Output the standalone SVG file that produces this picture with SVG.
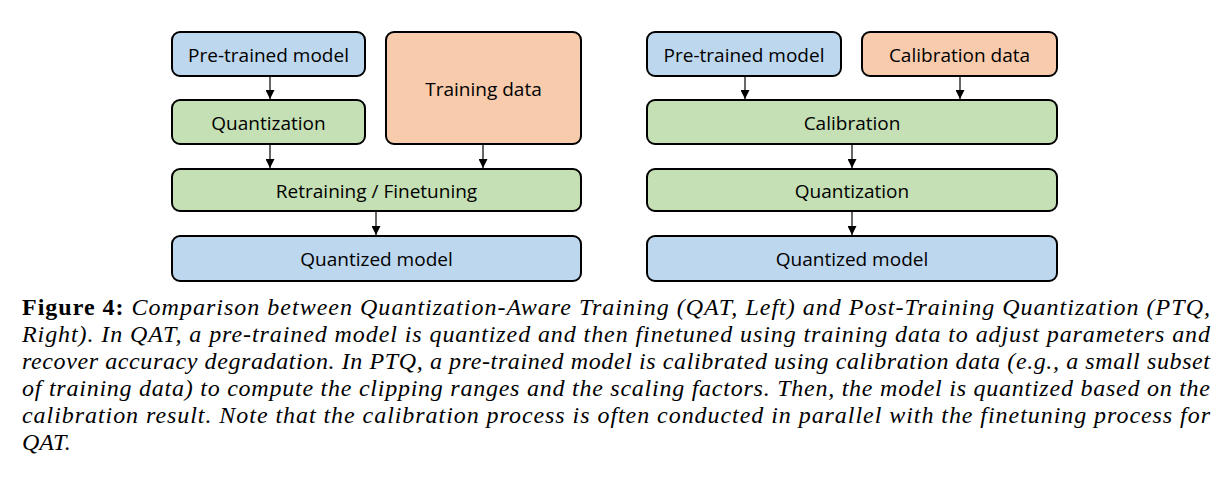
<svg xmlns="http://www.w3.org/2000/svg" width="1232" height="497" viewBox="0 0 1232 497">
<defs>
<marker id="ah" viewBox="0 0 10 10" refX="10" refY="5" markerWidth="9" markerHeight="9" markerUnits="userSpaceOnUse" orient="auto">
<path d="M0,0 L10,5 L0,10 z" fill="#000"/>
</marker>
</defs>
<style>
.box{stroke:#000;stroke-width:2}
.blue{fill:#BDD7EE}
.green{fill:#C5E0B4}
.orange{fill:#F8CBAD}
.lbl{font-family:"Open Sans","Noto Sans",sans-serif;font-size:19px;fill:#000;text-anchor:middle;dominant-baseline:central}
.con{stroke:#000;stroke-width:1.2;fill:none;marker-end:url(#ah)}
.cap{font-family:"Liberation Serif",serif;font-size:24px;font-style:italic;fill:#000}
</style>
<rect width="1232" height="497" fill="#fff"/>
<g id="qat-pretrained"><rect class="box blue" x="172" y="32" width="193" height="44" rx="8"/><text class="lbl" x="268.5" y="55">Pre-trained model</text></g>
<g id="qat-training"><rect class="box orange" x="386" y="32" width="195" height="112" rx="8"/><text class="lbl" x="483.5" y="89">Training data</text></g>
<g id="qat-quant"><rect class="box green" x="172" y="100" width="193" height="44" rx="8"/><text class="lbl" x="268.5" y="123">Quantization</text></g>
<g id="qat-retrain"><rect class="box green" x="172" y="169" width="409" height="42" rx="8"/><text class="lbl" x="376.5" y="191">Retraining / Finetuning</text></g>
<g id="qat-quantized"><rect class="box blue" x="172" y="236" width="409" height="45" rx="8"/><text class="lbl" x="376.5" y="259">Quantized model</text></g>
<g id="ptq-pretrained"><rect class="box blue" x="647" y="32" width="194" height="44" rx="8"/><text class="lbl" x="744" y="55">Pre-trained model</text></g>
<g id="ptq-calibdata"><rect class="box orange" x="862" y="32" width="195" height="44" rx="8"/><text class="lbl" x="959.5" y="55">Calibration data</text></g>
<g id="ptq-calib"><rect class="box green" x="647" y="100" width="410" height="44" rx="8"/><text class="lbl" x="852" y="123">Calibration</text></g>
<g id="ptq-quant"><rect class="box green" x="647" y="169" width="410" height="42" rx="8"/><text class="lbl" x="852" y="191">Quantization</text></g>
<g id="ptq-quantized"><rect class="box blue" x="647" y="236" width="410" height="45" rx="8"/><text class="lbl" x="852" y="259">Quantized model</text></g>
<g id="connectors">
<line class="con" x1="270" y1="77" x2="270" y2="99"/>
<line class="con" x1="270" y1="145" x2="270" y2="168"/>
<line class="con" x1="483" y1="145" x2="483" y2="168"/>
<line class="con" x1="376" y1="212" x2="376" y2="235"/>
<line class="con" x1="745" y1="77" x2="745" y2="99"/>
<line class="con" x1="960" y1="77" x2="960" y2="99"/>
<line class="con" x1="852" y1="145" x2="852" y2="168"/>
<line class="con" x1="852" y1="212" x2="852" y2="235"/>
</g>
<g id="caption">
<text class="cap" x="22" y="315" textLength="1188" lengthAdjust="spacing"><tspan font-weight="bold" font-style="normal">Figure 4:</tspan> Comparison between Quantization-Aware Training (QAT, Left) and Post-Training Quantization (PTQ,</text>
<text class="cap" x="22" y="342" textLength="1188" lengthAdjust="spacing">Right). In QAT, a pre-trained model is quantized and then finetuned using training data to adjust parameters and</text>
<text class="cap" x="22" y="369" textLength="1188" lengthAdjust="spacing">recover accuracy degradation. In PTQ, a pre-trained model is calibrated using calibration data (e.g., a small subset</text>
<text class="cap" x="22" y="396" textLength="1188" lengthAdjust="spacing">of training data) to compute the clipping ranges and the scaling factors. Then, the model is quantized based on the</text>
<text class="cap" x="22" y="423" textLength="1188" lengthAdjust="spacing">calibration result. Note that the calibration process is often conducted in parallel with the finetuning process for</text>
<text class="cap" x="22" y="450">QAT.</text>
</g>
</svg>
